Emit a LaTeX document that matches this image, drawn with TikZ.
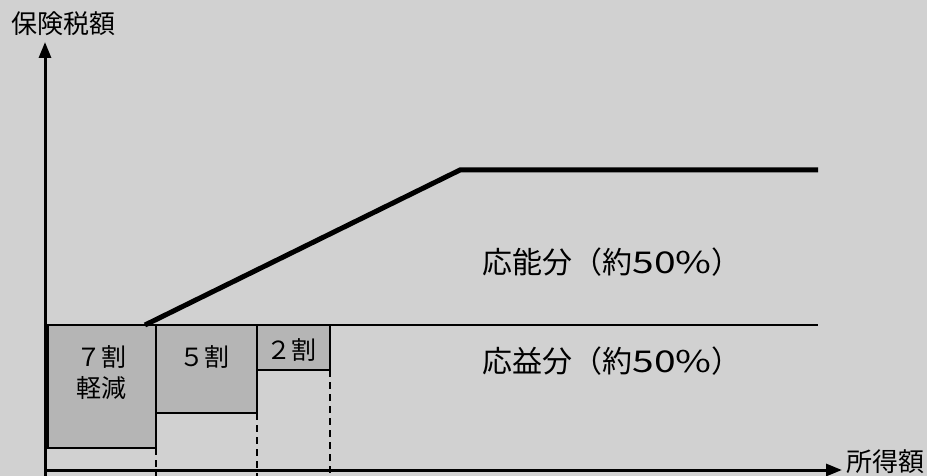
\documentclass[tikz,border=0pt]{standalone}
\usepackage{fontspec}
\usepackage{graphicx}
\newfontfamily\jp{Noto Sans CJK JP}
\usetikzlibrary{arrows.meta}
\definecolor{bg}{gray}{0.82}
\definecolor{boxfill}{gray}{0.71}
\newcommand{\widedig}[1]{\scalebox{1.3}[1]{#1}}
\begin{document}
\begin{tikzpicture}[x=1pt,y=-1pt,
  axis/.style={line width=3pt,-{Triangle[length=16pt,width=12pt]}},
  band/.style={draw=black,line width=1.6pt,fill=boxfill},
  guide/.style={line width=1.3pt,dash pattern=on 7pt off 5pt},
  big/.style={font=\jp\fontsize{30}{34}\selectfont},
  axlab/.style={font=\jp\fontsize{26}{30}\selectfont},
  small/.style={font=\jp\fontsize{25}{31}\selectfont,align=center}]
\fill[bg] (0,0) rectangle (927,476);
\useasboundingbox (0,0) rectangle (927,476);
% boxes
\draw[band] (48,325) rectangle (156,448);
\draw[band] (156,325) rectangle (257,413);
\draw[band] (257,325) rectangle (330,370);
% dashed guides
\coordinate (d1t) at (156,448); \coordinate (d1b) at (156,476);
\coordinate (d2t) at (257,413); \coordinate (d2b) at (257,476);
\coordinate (d3t) at (330,370); \coordinate (d3b) at (330,476);
\draw[guide] (d1t) -- (d1b);
\draw[guide] (d2t) -- (d2b);
\draw[guide] (d3t) -- (d3b);
% thin division line
\coordinate (l0) at (45,325); \coordinate (l1) at (818,325);
\draw[line width=2pt] (l0) -- (l1);
% thick line
\coordinate (t0) at (145,325); \coordinate (t1) at (460,170); \coordinate (t2) at (818,170);
\draw[line width=5pt,line join=miter] (t0) -- (t1) -- (t2);
% axes
\coordinate (o) at (45,478);
\coordinate (ytop) at (45,42);
\coordinate (xend) at (842,470);
\coordinate (xs) at (45,470);
\draw[axis] (o) -- (ytop);
\draw[axis] (xs) -- (xend);
% labels
\node[axlab] (ylab) at (64,24) {保険税額};
\node[axlab] (xlab) at (885,462) {所得額};
\node[big] (up) at (612,262) {応能分（約\widedig{50\%}）};
\node[big] (low) at (612,361) {応益分（約\widedig{50\%}）};
\node[small] (b7) at (101,373) {７割\\軽減};
\node[small] (b5) at (204,357) {５割};
\node[small] (b2) at (291,350) {２割};
\end{tikzpicture}
\end{document}
